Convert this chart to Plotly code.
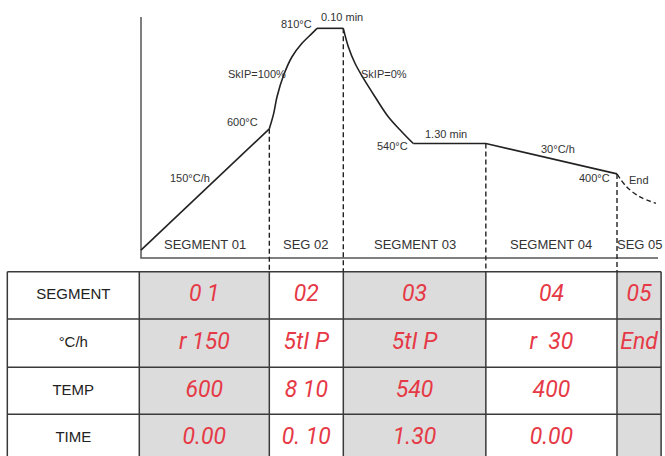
import plotly.graph_objects as go

# --- temperature profile as sketched (schematic units: x 0-100, y 0-100) ---
ramp_x = [0, 24.82]
ramp_y = [3.3, 53.6]
skip100_x = [24.82, 25.67, 26.31, 27.6, 29.21, 31.14, 33.08, 34.04]
skip100_y = [53.6, 60.0, 66.9, 75.9, 83.5, 89.1, 93.2, 95.3]
hold1_x = [34.04, 39.13]
hold1_y = [95.3, 95.3]
skip0_x = [39.13, 40.1, 41.39, 43.0, 45.26, 47.83, 50.43, 52.67]
skip0_y = [95.3, 87.7, 80.8, 74.6, 66.9, 58.6, 52.4, 47.5]
hold2_x = [52.67, 66.7, 92.07]
hold2_y = [47.5, 47.5, 34.9]
end_x = [92.07, 93.9, 96.5, 99.6]
end_y = [34.9, 29.6, 25.4, 22.7]

# segment boundaries and the level where each dashed marker starts
bound_x = [24.82, 39.13, 66.7, 92.07]
bound_y = [53.6, 95.3, 47.5, 34.9]

seg_names = ["SEGMENT 01", "SEG 02", "SEGMENT 03", "SEGMENT 04", "SEG 05"]

# table contents (one list per column)
row_labels = ["SEGMENT", "°C/h", "TEMP", "TIME"]
seg01 = ["0 1", "r 150", "600", "0.00"]
seg02 = ["02", "5tI P", "8 10", "0. 10"]
seg03 = ["03", "5tI P", "540", "1.30"]
seg04 = ["04", "r  30", "400", "0.00"]
seg05 = ["05", "End", "", ""]

LINE = "#222222"
TXT = "#333333"
GRAY = "#dcdcdc"
RED = "#e63946"
BORDER = "#3a3a3a"

# table grid, in the same units as the chart
col_edges = [-25.86, -0.33] + bound_x + [100.6]
row_edges = [-5.68, -25.31, -45.35, -64.85, -84.65]

fig = go.Figure()

# table cell fills (white / grey columns)
fill = [[0, 1, 0, 1, 0, 1] for _ in row_labels]
fig.add_trace(go.Heatmap(x=col_edges, y=row_edges, z=fill, zmin=0, zmax=1,
                         colorscale=[[0, "white"], [1, GRAY]], showscale=False,
                         hoverinfo="skip"))

# table borders
gx, gy = [], []
for cx in col_edges:
    gx += [cx, cx, None]
    gy += [row_edges[0], row_edges[-1], None]
for ry in row_edges:
    gx += [col_edges[0], col_edges[-1], None]
    gy += [ry, ry, None]
fig.add_trace(go.Scatter(x=gx, y=gy, mode="lines", line=dict(color=BORDER, width=1.5),
                         hoverinfo="skip"))

# table text
col_mid = [(a + b) / 2 for a, b in zip(col_edges[:-1], col_edges[1:])]
row_mid = [(a + b) / 2 for a, b in zip(row_edges[:-1], row_edges[1:])]
fig.add_trace(go.Scatter(x=[col_mid[0]] * len(row_labels), y=row_mid, mode="text",
                         text=row_labels, textposition="middle center",
                         textfont=dict(family="Liberation Sans", size=15, color="#222222"),
                         hoverinfo="skip"))
vx, vy, vt = [], [], []
for ci, col in enumerate([seg01, seg02, seg03, seg04, seg05]):
    for ri, val in enumerate(col):
        vx.append(col_mid[ci + 1])
        vy.append(row_mid[ri])
        vt.append(val)
fig.add_trace(go.Scatter(x=vx, y=vy, mode="text", text=vt, textposition="middle center",
                         textfont=dict(family="Roboto", size=23, color=RED,
                                       style="italic", weight=400),
                         hoverinfo="skip"))

# chart frame
fig.add_trace(go.Scatter(x=[0, 0, 100], y=[100, 0, 0], mode="lines",
                         line=dict(color="#555555", width=1.5), hoverinfo="skip"))

# dashed segment boundaries, running down to the table
for bx, by in zip(bound_x, bound_y):
    fig.add_trace(go.Scatter(x=[bx, bx], y=[by, row_edges[0]], mode="lines",
                             line=dict(color=LINE, width=1.4, dash="5px,3px"),
                             hoverinfo="skip"))

for xs, ys, shape in [(ramp_x, ramp_y, "linear"), (skip100_x, skip100_y, "spline"),
                      (hold1_x, hold1_y, "linear"), (skip0_x, skip0_y, "spline"),
                      (hold2_x, hold2_y, "linear")]:
    fig.add_trace(go.Scatter(x=xs, y=ys, mode="lines", line_shape=shape,
                             line=dict(color=LINE, width=1.6), hoverinfo="skip"))
fig.add_trace(go.Scatter(x=end_x, y=end_y, mode="lines", line_shape="spline",
                         line=dict(color=LINE, width=1.4, dash="5px,3px"),
                         hoverinfo="skip"))

labels = [
    ("150°C/h", 9.48, 33.4), ("600°C", 19.6, 56.3), ("SkIP=100%", 22.4, 76.3),
    ("810°C", 30.1, 96.9), ("0.10 min", 38.8, 99.8), ("SkIP=0%", 47.0, 76.3),
    ("540°C", 48.7, 46.5), ("1.30 min", 59.0, 51.5), ("30°C/h", 80.7, 45.2),
    ("400°C", 87.8, 33.4), ("End", 96.3, 32.4),
]
for txt, x, y in labels:
    fig.add_annotation(x=x, y=y, text=txt, showarrow=False,
                       font=dict(size=11, color=TXT))
seg_mid = [(a + b) / 2 for a, b in zip([0] + bound_x, bound_x + [100.6])]
seg_mid[-1] = 96.5
for name, cx in zip(seg_names, seg_mid):
    fig.add_annotation(x=cx, y=5.4, text=name, showarrow=False,
                       font=dict(size=13, color=TXT))

fig.update_layout(
    width=665, height=456, margin=dict(l=0, r=0, t=0, b=0),
    paper_bgcolor="white", plot_bgcolor="white", showlegend=False,
    font=dict(family="Liberation Sans"),
    xaxis=dict(range=[-27.273, 101.354], visible=False, fixedrange=True),
    yaxis=dict(range=[-82.158, 107.054], visible=False, fixedrange=True),
)

fig.write_html("out.html", config={"displayModeBar": False},
               post_script="document.body.style.margin='0px';")
